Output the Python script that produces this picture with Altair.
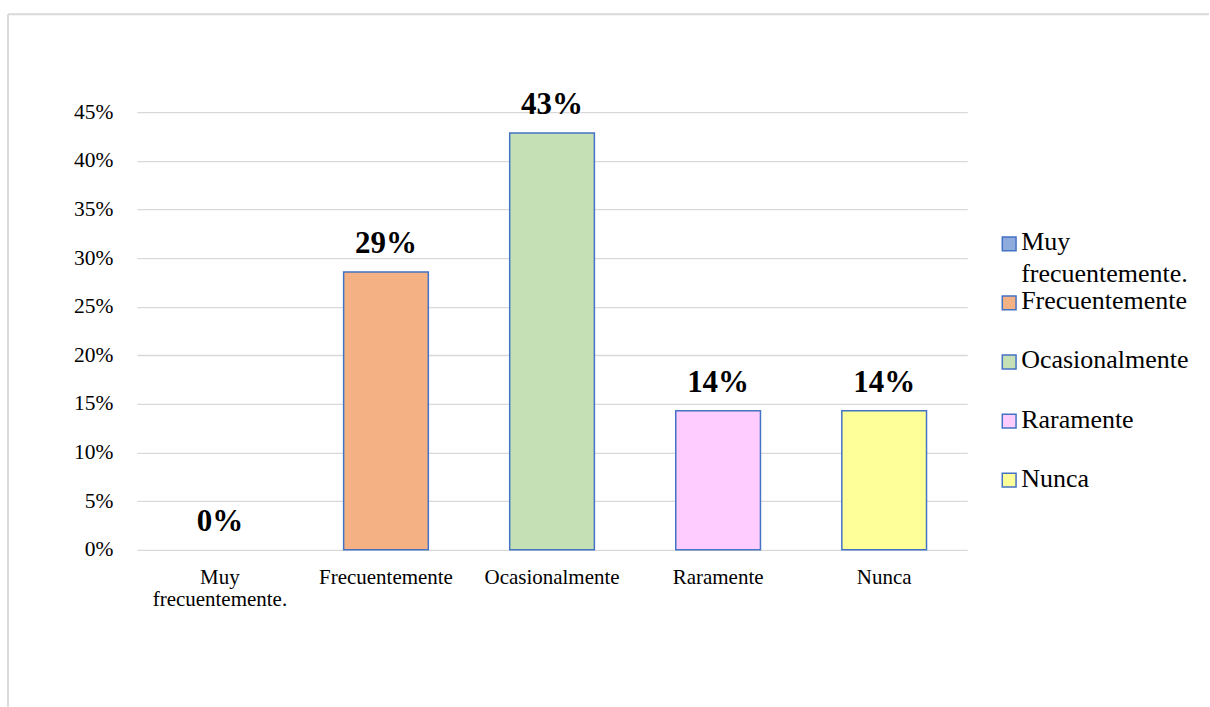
import altair as alt
import pandas as pd

categories = ["Muy frecuentemente.", "Frecuentemente", "Ocasionalmente", "Raramente", "Nunca"]
values = [0.0, 0.2857, 0.4286, 0.1429, 0.1429]
value_labels = ["0%", "29%", "43%", "14%", "14%"]
colors = ["#8FAADC", "#F4B183", "#C5E0B4", "#FFCCFF", "#FFFF99"]
y_ticks = [0, 0.05, 0.10, 0.15, 0.20, 0.25, 0.30, 0.35, 0.40, 0.45]

df = pd.DataFrame({"cat": categories, "value": values, "lbl": value_labels})

FONT = "Liberation Serif"
W, H = 831, 438

xenc = alt.X(
    "cat:N",
    sort=categories,
    scale=alt.Scale(paddingInner=0.49, paddingOuter=0.245),
    axis=alt.Axis(
        title=None, labelAngle=0, domain=False, ticks=False,
        labelFontSize=21, labelColor="#000000", labelFont=FONT,
        labelPadding=17, labelLineHeight=22, labelBaseline="top",
        labelExpr="split(datum.label, ' ')",
    ),
)
yenc = alt.Y(
    "value:Q",
    scale=alt.Scale(domain=[0, 0.45], nice=False),
    axis=alt.Axis(
        title=None, values=y_ticks, format=".0%", domain=False, ticks=False,
        grid=True, gridColor="#D9D9D9", gridWidth=1.3,
        labelFontSize=21.5, labelColor="#000000", labelFont=FONT, labelPadding=24,
    ),
)
color = alt.Color("cat:N", scale=alt.Scale(domain=categories, range=colors), legend=None)

base = alt.Chart(df)

bars = base.transform_filter("datum.value > 0").mark_bar(
    stroke="#4472C4", strokeWidth=1.5
).encode(x=xenc, y=yenc, color=color)

labels = base.mark_text(
    font=FONT, fontSize=31, fontWeight="bold", color="#000000",
    baseline="alphabetic", dy=-19,
).encode(x=xenc, y=yenc, text="lbl:N")

main = alt.layer(bars, labels)

# legend built from the same categories
leg_y = alt.Y(
    "cat:N", sort=categories,
    scale=alt.Scale(type="point", domain=categories, range=[131.7, 368.3], padding=0),
    axis=None,
)
leg_sw = base.mark_square(size=190, stroke="#4472C4", strokeWidth=1.5, opacity=1).encode(
    x=alt.value(873), y=leg_y, color=color
)
leg_tx = base.transform_calculate(txt="split(datum.cat, ' ')").mark_text(
    font=FONT, fontSize=26, color="#000000", align="left", baseline="alphabetic",
    dy=6.5, lineHeight=32,
).encode(x=alt.value(885), y=leg_y, text="txt:N")
legend = alt.layer(leg_sw, leg_tx)

frame_df = pd.DataFrame({"a": [0]})
frame_top = alt.Chart(frame_df).mark_rule(color="#D9D9D9", strokeWidth=2).encode(
    x=alt.value(-129), x2=alt.value(1073), y=alt.value(-98)
)
frame_left = alt.Chart(frame_df).mark_rule(color="#D9D9D9", strokeWidth=2).encode(
    x=alt.value(-129), y=alt.value(-98), y2=alt.value(595)
)

chart = (
    alt.layer(main, legend, frame_top, frame_left)
    .resolve_scale(y="independent")
    .properties(width=W, height=H, padding={"left": 7, "top": 13, "right": 0, "bottom": 0},
                background="white")
    .configure_view(stroke="transparent")
)

chart.save("out.html", embed_options={"renderer": "svg", "actions": False})
